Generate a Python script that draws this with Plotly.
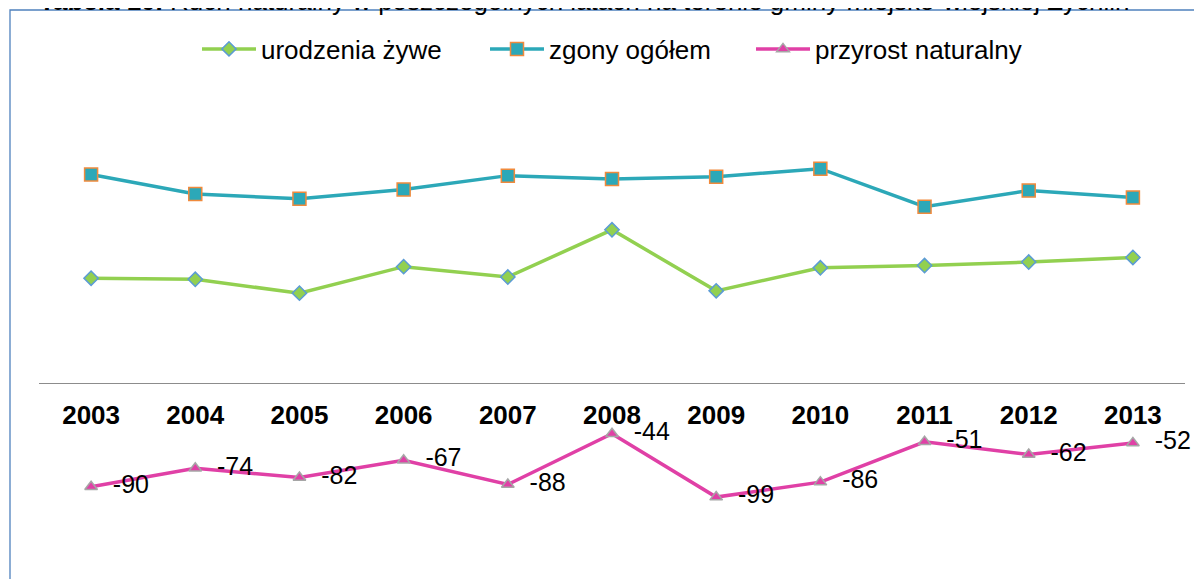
import plotly.graph_objects as go

# Ruch naturalny - gmina Zychlin
years = ["2003", "2004", "2005", "2006", "2007", "2008", "2009", "2010", "2011", "2012", "2013"]
births = [91, 90, 78, 101, 92, 133, 80, 100, 102, 105, 109]
deaths = [181, 164, 160, 168, 180, 177, 179, 186, 153, 167, 161]
increase = [-90, -74, -82, -67, -88, -44, -99, -86, -51, -62, -52]

# page has an 8px body margin, so sizes are the window minus that
W, H = 1194, 571
ml, mr, mt, mb = 31, 17, 0, 19
pw, ph = W - ml - mr, H - mt - mb
# y range chosen so that 0 sits on the axis line and the plot spans the whole height
y_top, y_bot = 325.5, -153.6

FONT = "Arial, Liberation Sans"

def px_x(p):
    return (p - ml) / pw

def px_y(p):
    return (H - mb - p) / ph

fig = go.Figure()

fig.add_trace(go.Scatter(
    x=years, y=births, name="urodzenia żywe", mode="lines+markers", legend="legend",
    line=dict(color="#92D050", width=3.5),
    marker=dict(symbol="diamond", size=11, color="#92D050",
                line=dict(color="#5B9BD5", width=1.5))))

fig.add_trace(go.Scatter(
    x=years, y=deaths, name="zgony ogółem", mode="lines+markers", legend="legend2",
    line=dict(color="#2CA8B8", width=3.5),
    marker=dict(symbol="square", size=13, color="#2CA8B8",
                line=dict(color="#F08A3C", width=1.5))))

fig.add_trace(go.Scatter(
    x=years, y=increase, name="przyrost naturalny", mode="lines+markers+text", legend="legend3",
    text=["  " + str(v) for v in increase], textposition="middle right",
    textfont=dict(family=FONT, size=25, color="black"), cliponaxis=False,
    line=dict(color="#E040A6", width=3.5),
    marker=dict(symbol="triangle-up", size=11, color="#E040A6",
                line=dict(color="#A6A6A6", width=1.5))))

# frame of the chart area (only left and top edges are in view)
fig.add_shape(type="rect", xref="paper", yref="paper",
              x0=px_x(2), x1=px_x(W + 20), y0=px_y(H + 20), y1=px_y(2),
              line=dict(color="#4F81BD", width=1.3), fillcolor="rgba(0,0,0,0)", layer="below")

fig.add_annotation(
    text="<b>Tabela 10.</b> Ruch naturalny w poszczególnych latach na terenie gminy miejsko-wiejskiej Żychlin",
    xref="paper", yref="paper", x=px_x(1124), y=px_y(10),
    xanchor="right", yanchor="bottom", showarrow=False,
    font=dict(family=FONT, size=26, color="black"))


def legend_at(px):
    return dict(orientation="h", x=px_x(px), xanchor="left", y=px_y(41), yanchor="middle",
                font=dict(family=FONT, size=26, color="black"), itemwidth=54,
                bgcolor="rgba(0,0,0,0)")


fig.update_layout(
    width=W, height=H,
    margin=dict(l=ml, r=mr, t=mt, b=mb, autoexpand=False),
    paper_bgcolor="white", plot_bgcolor="white",
    font=dict(family=FONT, size=26, color="black"),
    showlegend=True,
    legend=legend_at(189),
    legend2=legend_at(477),
    legend3=legend_at(743),
    xaxis=dict(type="category", range=[-0.5, 10.5], anchor="free", position=px_y(375),
               showline=True, linecolor="#8C8C8C", linewidth=1.3, showgrid=False,
               ticks="", ticklabelstandoff=9,
               tickfont=dict(family=FONT, size=26, weight="bold")),
    yaxis=dict(range=[y_bot, y_top], visible=False, showgrid=False, zeroline=False),
)

fig.write_html("out.html")
